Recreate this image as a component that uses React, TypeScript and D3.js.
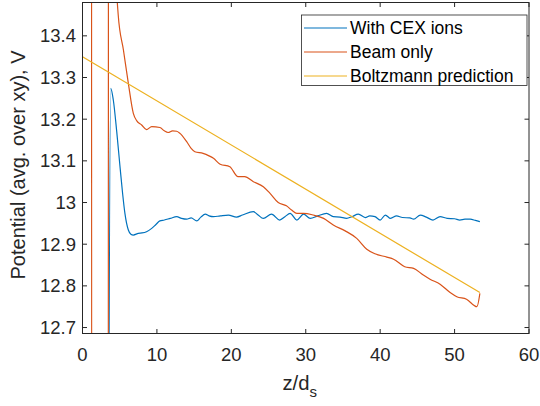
import React from "react";
import * as d3 from "d3";

const cexX = [3.45, 3.79, 4.14, 4.6, 5.04, 5.4, 5.7, 6.16, 6.5, 6.83, 7.5, 8.0, 8.6, 9.3, 9.9, 10.4, 11.0, 11.8, 12.66, 13.3, 14.0, 14.6, 15.35, 15.9, 16.5, 17.0, 17.6, 18.5, 19.6, 20.7, 21.5, 22.96, 23.6, 24.3, 25.4, 26.5, 27.2, 27.9, 28.8, 29.7, 30.6, 31.6, 32.8, 33.7, 34.6, 35.5, 36.2, 37.07, 38.0, 38.6, 39.3, 40.0, 40.7, 41.4, 42.2, 43.0, 44.0, 44.5, 45.4, 46.2, 47.1, 48.05, 49.0, 50.0, 50.7, 51.4, 52.1, 52.8, 53.4];
const cexY = [12.0, 13.274, 13.246, 13.17, 13.086, 13.02, 12.974, 12.934, 12.924, 12.922, 12.926, 12.927, 12.93, 12.938, 12.948, 12.956, 12.958, 12.962, 12.966, 12.962, 12.96, 12.963, 12.956, 12.965, 12.972, 12.968, 12.966, 12.968, 12.97, 12.965, 12.97, 12.978, 12.97, 12.962, 12.972, 12.958, 12.966, 12.974, 12.958, 12.972, 12.962, 12.968, 12.974, 12.966, 12.965, 12.962, 12.966, 12.972, 12.964, 12.968, 12.966, 12.958, 12.97, 12.962, 12.968, 12.964, 12.963, 12.96, 12.97, 12.965, 12.958, 12.966, 12.962, 12.961, 12.958, 12.96, 12.96, 12.957, 12.954];

const beamX = [1.2, 1.26, 3.45, 3.5, 4.2, 4.8, 5.5, 6.16, 6.83, 7.3, 7.95, 8.6, 9.3, 10.4, 11.0, 11.5, 12.1, 12.66, 13.1, 14.0, 14.6, 15.1, 16.2, 17.0, 17.6, 18.5, 19.8, 20.9, 21.8, 22.96, 24.3, 25.2, 26.3, 27.4, 28.1, 28.8, 29.7, 31.0, 32.4, 33.7, 35.3, 36.85, 38.2, 39.3, 40.9, 41.8, 43.3, 44.5, 45.8, 46.7, 48.05, 49.4, 50.3, 51.6, 53.0, 53.4];
const beamY = [15, 11, 11, 15, 13.7, 13.45, 13.366, 13.286, 13.214, 13.196, 13.186, 13.175, 13.182, 13.18, 13.172, 13.168, 13.172, 13.171, 13.166, 13.146, 13.13, 13.122, 13.118, 13.112, 13.106, 13.092, 13.086, 13.062, 13.062, 13.05, 13.038, 13.022, 13.0, 12.992, 12.982, 12.974, 12.974, 12.97, 12.962, 12.946, 12.932, 12.914, 12.888, 12.877, 12.869, 12.864, 12.846, 12.842, 12.826, 12.816, 12.804, 12.784, 12.774, 12.768, 12.75, 12.782];

const boltzX = [0, 53.4];
const boltzY = [13.35, 12.784];

const xTicks = [0, 10, 20, 30, 40, 50, 60];
const yTicks = [12.7, 12.8, 12.9, 13, 13.1, 13.2, 13.3, 13.4];
const seriesNames = ["With CEX ions", "Beam only", "Boltzmann prediction"];
const seriesColors = ["#0072BD", "#D95319", "#EDB120"];

const W = 540, H = 406;
const L = 82.5, R = 529, T = 2.5, B = 333.5;
const FONT = "'Liberation Sans', Arial, Helvetica, sans-serif";
const AX = "#262626";

export default function App() {
  const x = d3.scaleLinear().domain([0, 60]).range([L, R]);
  const y = d3.scaleLinear().domain([12.6857, 13.48]).range([B, T]);
  const smooth = d3.line<[number, number]>().x((d) => x(d[0])).y((d) => y(d[1])).curve(d3.curveMonotoneX);
  const straight = d3.line<[number, number]>().x((d) => x(d[0])).y((d) => y(d[1]));
  const series = [
    cexX.map((v, i) => [v, cexY[i]] as [number, number]),
    beamX.map((v, i) => [v, beamY[i]] as [number, number]),
    boltzX.map((v, i) => [v, boltzY[i]] as [number, number]),
  ];
  const tl = 4.5;
  return (
    <svg width={W} height={H} style={{ position: "absolute", left: 0, top: 0, background: "#fff" }} fontFamily={FONT}>
      <defs>
        <clipPath id="plotclip">
          <rect x={L} y={T} width={R - L} height={B - T} />
        </clipPath>
      </defs>
      <rect x={0} y={0} width={W} height={H} fill="#fff" />
      <g clipPath="url(#plotclip)">
        {series.map((s, i) => (
          <path key={i} d={(i < 2 ? smooth(s) : straight(s)) || ""} fill="none" stroke={seriesColors[i]} strokeWidth={1.2} strokeLinejoin="round" />
        ))}
      </g>
      <rect x={L} y={T} width={R - L} height={B - T} fill="none" stroke={AX} strokeWidth={1} />
      {xTicks.map((t) => (
        <g key={"x" + t}>
          <line x1={x(t)} x2={x(t)} y1={B} y2={B - tl} stroke={AX} />
          <line x1={x(t)} x2={x(t)} y1={T} y2={T + tl} stroke={AX} />
          <text x={x(t)} y={360.5} textAnchor="middle" fontSize={18.5} fill={AX}>{t}</text>
        </g>
      ))}
      {yTicks.map((t) => (
        <g key={"y" + t}>
          <line x1={L} x2={L + tl} y1={y(t)} y2={y(t)} stroke={AX} />
          <line x1={R} x2={R - tl} y1={y(t)} y2={y(t)} stroke={AX} />
          <text x={76} y={y(t) + 6.5} textAnchor="end" fontSize={18.5} fill={AX}>{d3.format("")(t)}</text>
        </g>
      ))}
      <text x={(L + R) / 2 - 6} y={390} textAnchor="middle" fontSize={20.3} fill={AX}>
        z/d<tspan fontSize={15} dy={7}>s</tspan>
      </text>
      <text transform={`translate(24.5,${(T + B) / 2 - 3}) rotate(-90)`} textAnchor="middle" fontSize={20} fill={AX}>
        Potential (avg. over xy), V
      </text>
      <rect x={301.5} y={15} width={225.5} height={70.5} fill="#fff" stroke={AX} strokeWidth={0.8} />
      {seriesNames.map((n, i) => (
        <g key={n}>
          <line x1={304} x2={347} y1={28 + i * 24} y2={28 + i * 24} stroke={seriesColors[i]} strokeWidth={1.2} />
          <text x={350} y={28 + i * 24 + 6} fontSize={17.5} fill="#000">{n}</text>
        </g>
      ))}
    </svg>
  );
}
